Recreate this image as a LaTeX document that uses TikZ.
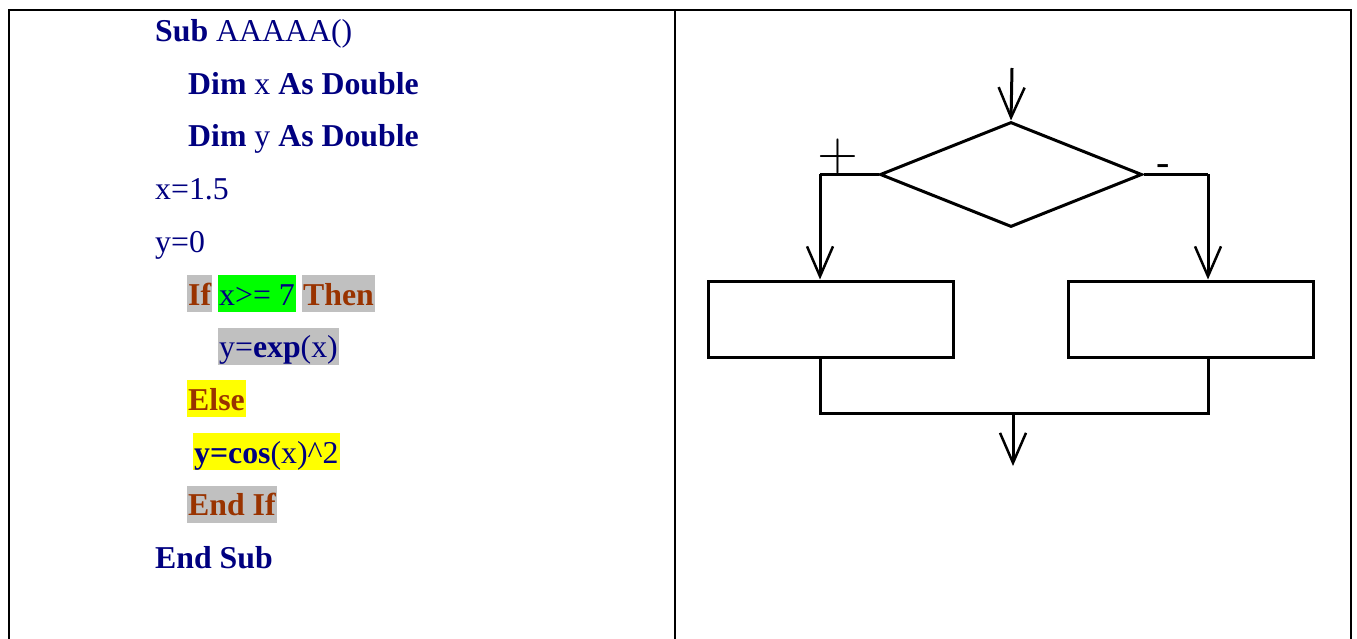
\documentclass[tikz,border=0pt]{standalone}
\usepackage{fontspec}
\setmainfont{Liberation Serif}
\usetikzlibrary{shapes.geometric}
\usetikzlibrary{arrows.meta}

\definecolor{codeblue}{RGB}{0,0,128}
\definecolor{kwbrown}{RGB}{153,51,0}
\definecolor{hlgray}{RGB}{192,192,192}
\definecolor{hlgreen}{RGB}{0,255,0}
\definecolor{hlyellow}{RGB}{255,255,0}

\tikzset{
  code/.style={anchor=base west, inner sep=0pt, text=codeblue,
    font={\fontsize{31.8}{37}\selectfont}},
  kw/.style={code, text=kwbrown, font={\fontsize{31.8}{37}\selectfont\bfseries}},
  hl/.style={fill=#1, inner xsep=1pt, inner ysep=0pt, text height=30pt, text depth=7pt},
  frame/.style={line width=2pt},
  flow/.style={line width=3pt},
  arr/.style={flow, -{Straight Barb[length=30pt,width=26pt,line width=2.5pt]}}
}

\begin{document}
\begin{tikzpicture}[x=1pt,y=-1pt]
    \useasboundingbox (0,0) rectangle (1357,639);

    % table
    \draw[frame] (9,639) -- (9,10) -- (1351,10) -- (1351,639);
    \draw[frame] (675,10) -- (675,639);

    % code
    \node[code] (sub)    at (155,41.5)  {\textbf{Sub} AAAAA()};
    \node[code] (dimx)   at (188,94.2)  {\textbf{Dim} x \textbf{As Double}};
    \node[code] (dimy)   at (188,146.9) {\textbf{Dim} y \textbf{As Double}};
    \node[code] (xset)   at (155,199.6) {x=1.5};
    \node[code] (yset)   at (155,252.3) {y=0};
    \node[kw, hl=hlgray]     (if)     at (187,305)   {If};
    \node[code, hl=hlgreen]  (cond)   at (218,305)   {x>= 7};
    \node[kw, hl=hlgray]     (then)   at (302,305)   {Then};
    \node[code, hl=hlgray]   (yexp)   at (218,357.7) {y=\textbf{exp}(x)};
    \node[kw, hl=hlyellow]   (else)   at (187,410.4) {Else};
    \node[code, hl=hlyellow] (ycos)   at (193,463)   {\textbf{y=cos}(x)\textasciicircum 2};
    \node[kw, hl=hlgray]     (endif)  at (187,515.8) {End If};
    \node[code] (endsub) at (155,568.5) {\textbf{End Sub}};

    % flowchart
    \node[draw, flow, diamond, minimum width=262pt, minimum height=105pt, inner sep=0pt] (cond box) at (1011,174.5) {};
    \node[draw, flow, minimum width=245pt, minimum height=76pt, inner sep=0pt] (lbox) at (830.5,319) {};
    \node[draw, flow, minimum width=245pt, minimum height=76pt, inner sep=0pt] (rbox) at (1190.5,319) {};

    \coordinate (in)    at (1012,68);
    \coordinate (lj)    at (820,174.5);
    \coordinate (rj)    at (1208,174.5);
    \coordinate (lm)    at (820,413);
    \coordinate (rm)    at (1208,413);
    \coordinate (merge) at (1013,413);
    \coordinate (out)   at (1013,466);

    \node[font={\fontsize{56}{56}\selectfont\sffamily}, inner sep=0pt] (plus) at (838,157) {+};
    \node[font={\fontsize{40}{40}\selectfont}, inner sep=0pt] (minus) at (1163,170) {-};

    \draw[arr] (in) -- (cond box.north);
    \draw[flow] (cond box.west) -- (lj);
    \draw[flow] (cond box.east) -- (rj);
    \draw[arr] (lj) -- (lj |- lbox.north);
    \draw[arr] (rj) -- (rj |- rbox.north);
    \draw[flow] (lj |- lbox.south) -- (lm) -- (rm) -- (rj |- rbox.south);
    \draw[arr] (merge) -- (out);
\end{tikzpicture}
\end{document}
